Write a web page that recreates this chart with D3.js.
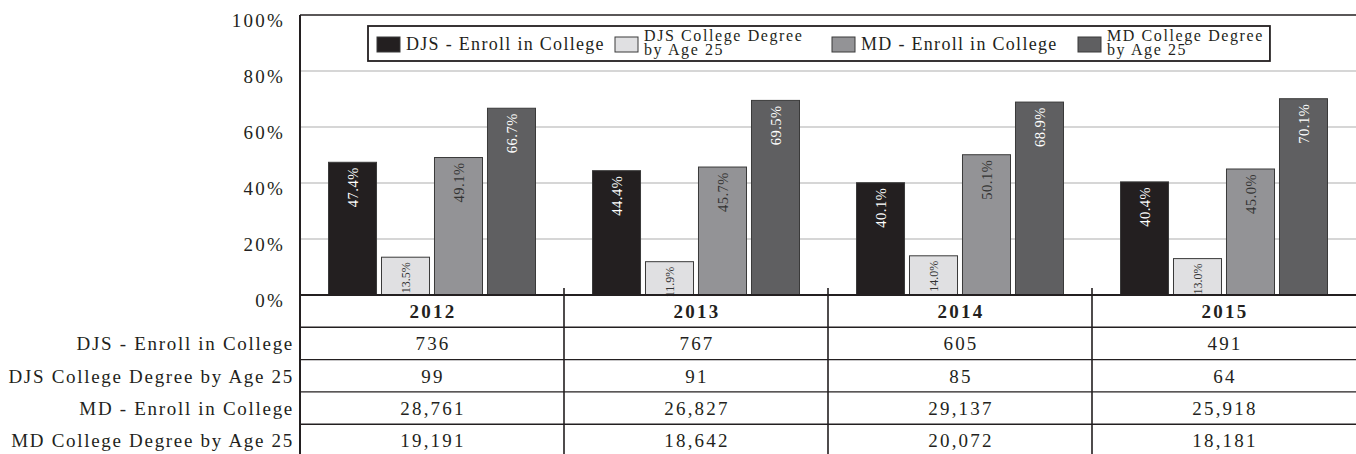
<!DOCTYPE html>
<html>
<head>
<meta charset="utf-8">
<script src="https://cdn.jsdelivr.net/npm/d3@7"></script>
<style>
  html, body { margin: 0; padding: 0; background: #fff; }
  svg { display: block; font-family: "Liberation Serif", "DejaVu Serif", serif; }
</style>
</head>
<body>
<svg id="chart" width="1356" height="454"></svg>
<script>
// Years shown along the category axis and as table columns
const years = ["2012", "2013", "2014", "2015"];

// Series names (legend + table row labels)
const seriesNames = [
  "DJS - Enroll in College",
  "DJS College Degree by Age 25",
  "MD - Enroll in College",
  "MD College Degree by Age 25"
];

// Percentages plotted as bars (per year, in series order)
const djsEnrollPct = [47.4, 44.4, 40.1, 40.4];
const djsDegreePct = [13.5, 11.9, 14.0, 13.0];
const mdEnrollPct  = [49.1, 45.7, 50.1, 45.0];
const mdDegreePct  = [66.7, 69.5, 68.9, 70.1];

// Counts shown in the data table under the chart
const djsEnrollCount = ["736", "767", "605", "491"];
const djsDegreeCount = ["99", "91", "85", "64"];
const mdEnrollCount  = ["28,761", "26,827", "29,137", "25,918"];
const mdDegreeCount  = ["19,191", "18,642", "20,072", "18,181"];

// Y axis ticks
const yTicks = [0, 20, 40, 60, 80, 100];

const pctSeries = [djsEnrollPct, djsDegreePct, mdEnrollPct, mdDegreePct];
const countSeries = [djsEnrollCount, djsDegreeCount, mdEnrollCount, mdDegreeCount];

const fills = ["#231f20", "#e0e0e2", "#939396", "#5f5f61"];
const labelColors = ["#ffffff", "#333333", "#333333", "#ffffff"];
const labelSizes = [14.5, 12, 14.5, 14.5];
const ink = "#231f20";

const svg = d3.select("#chart");
const plotLeft = 300, plotRight = 1356, plotTop = 15, plotBase = 295;
const rowH = 32.3;

const x = d3.scaleBand().domain(years).range([plotLeft, plotRight]).padding(0);
const xs = d3.scaleBand().domain(d3.range(4)).range([28.5, 235.5]).paddingInner(0.094).paddingOuter(0);
const y = d3.scaleLinear().domain([0, 100]).range([plotBase, plotTop]);

// Gridlines
svg.append("g")
  .selectAll("line")
  .data(yTicks.filter(t => t > 0 && t < 100))
  .join("line")
  .attr("x1", plotLeft).attr("x2", plotRight)
  .attr("y1", d => y(d)).attr("y2", d => y(d))
  .attr("stroke", "#c9c9c9").attr("stroke-width", 1.6);

// Y axis labels
const yAxis = d3.axisLeft(y).tickValues(yTicks).tickFormat(d => d + "%").tickSize(0).tickPadding(0);
const gy = svg.append("g").attr("transform", `translate(${plotLeft - 15},5)`).call(yAxis);
gy.select(".domain").remove();
gy.selectAll("text").attr("font-size", 19).attr("fill", ink)
  .attr("font-family", "Liberation Serif, serif").attr("letter-spacing", 2.2);

// Bars
const groups = svg.append("g").selectAll("g")
  .data(years)
  .join("g")
  .attr("transform", d => `translate(${x(d)},0)`);

groups.each(function(yr, yi) {
  const g = d3.select(this);
  pctSeries.forEach((s, si) => {
    const v = s[yi];
    const bx = xs(si), bw = xs.bandwidth();
    g.append("rect")
      .attr("x", bx).attr("y", y(v))
      .attr("width", bw).attr("height", plotBase - y(v))
      .attr("fill", fills[si])
      .attr("stroke", "#3a3a3a").attr("stroke-width", 1);
    g.append("text")
      .attr("transform", `translate(${bx + bw / 2},${y(v) + 5}) rotate(-90)`)
      .attr("text-anchor", "end")
      .attr("dy", "0.35em")
      .attr("font-size", labelSizes[si])
      .attr("fill", labelColors[si])
      .attr("letter-spacing", si === 1 ? 0 : 0.5)
      .text(v.toFixed(1) + "%");
  });
});

// Plot frame: top and left edges, baseline
svg.append("line").attr("x1", plotLeft).attr("x2", plotRight).attr("y1", plotTop).attr("y2", plotTop)
  .attr("stroke", ink).attr("stroke-width", 1.5);
svg.append("line").attr("x1", plotLeft).attr("x2", plotLeft).attr("y1", plotTop).attr("y2", 454)
  .attr("stroke", ink).attr("stroke-width", 2);
svg.append("line").attr("x1", plotLeft).attr("x2", plotRight).attr("y1", plotBase).attr("y2", plotBase)
  .attr("stroke", ink).attr("stroke-width", 2);

// Category dividers (extend slightly above baseline and down through the table)
svg.append("g").selectAll("line")
  .data(years.slice(1))
  .join("line")
  .attr("x1", d => x(d)).attr("x2", d => x(d))
  .attr("y1", plotBase - 7).attr("y2", 454)
  .attr("stroke", ink).attr("stroke-width", 1.6);

// Table row lines
svg.append("g").selectAll("line")
  .data(d3.range(1, 5))
  .join("line")
  .attr("x1", plotLeft).attr("x2", plotRight)
  .attr("y1", d => plotBase + d * rowH).attr("y2", d => plotBase + d * rowH)
  .attr("stroke", ink).attr("stroke-width", 1.4);

// Header row: years
svg.append("g").selectAll("text")
  .data(years)
  .join("text")
  .attr("x", d => x(d) + x.bandwidth() / 2 + 1)
  .attr("y", plotBase + rowH / 2 + 7)
  .attr("text-anchor", "middle")
  .attr("font-size", 19).attr("font-weight", "bold")
  .attr("letter-spacing", 2.2)
  .attr("fill", ink)
  .text(d => d);

// Table body
countSeries.forEach((row, ri) => {
  const cy = plotBase + (ri + 1) * rowH + rowH / 2 + 7;
  svg.append("text")
    .attr("x", plotLeft - 6).attr("y", cy)
    .attr("text-anchor", "end")
    .attr("font-size", 19).attr("letter-spacing", 1.7)
    .attr("fill", ink)
    .text(seriesNames[ri]);
  svg.append("g").selectAll("text")
    .data(row)
    .join("text")
    .attr("x", (d, i) => x(years[i]) + x.bandwidth() / 2 + 1)
    .attr("y", cy)
    .attr("text-anchor", "middle")
    .attr("font-size", 19).attr("letter-spacing", 2.2)
    .attr("fill", ink)
    .text(d => d);
});

// Legend
const legendLines = [
  ["DJS - Enroll in College"],
  ["DJS College Degree", "by Age 25"],
  ["MD - Enroll in College"],
  ["MD College Degree", "by Age 25"]
];
const swatchX = [377, 615, 832, 1078];
const lg = svg.append("g");
const lgBox = lg.append("rect")
  .attr("x", 368).attr("y", 26).attr("height", 35)
  .attr("fill", "#fff").attr("stroke", ink).attr("stroke-width", 1.8);
let lgEnd = 0;
legendLines.forEach((lines, i) => {
  const sx = swatchX[i];
  lg.append("rect")
    .attr("x", sx).attr("y", 37).attr("width", 23).attr("height", 15)
    .attr("fill", fills[i]).attr("stroke", "#3a3a3a").attr("stroke-width", 1);
  if (lines.length === 1) {
    const t = lg.append("text")
      .attr("x", sx + 29).attr("y", 50)
      .attr("font-size", 18).attr("letter-spacing", 1.3)
      .attr("fill", ink)
      .text(lines[0]);
    const bb = t.node().getBBox();
    lgEnd = Math.max(lgEnd, bb.x + bb.width);
  } else {
    lines.forEach((line, k) => {
      const t = lg.append("text")
        .attr("x", sx + 29).attr("y", 41 + k * 14)
        .attr("font-size", 16).attr("letter-spacing", 1.6)
        .attr("fill", ink)
        .text(line);
      const bb = t.node().getBBox();
      lgEnd = Math.max(lgEnd, bb.x + bb.width);
    });
  }
});
lgBox.attr("width", lgEnd + 6 - 368);
</script>
</body>
</html>
